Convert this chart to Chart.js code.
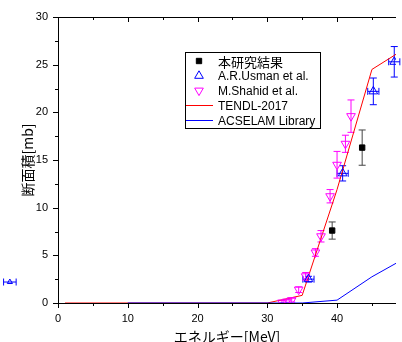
<!DOCTYPE html>
<html>
<head>
<meta charset="utf-8">
<script src="https://cdn.jsdelivr.net/npm/chart.js@4"></script>
<style>
  html, body { margin: 0; padding: 0; background: #fff; }
  canvas { display: block; }
</style>
</head>
<body>
<canvas id="xsChart" width="402" height="342"></canvas>
<script>
// tick labels
const xTicks = [0, 10, 20, 30, 40];
const yTicks = [0, 5, 10, 15, 20, 25, 30];

// 本研究結果
const thisE = [39.3, 43.6];
const thisXS = [7.6, 16.3];
const thisErr = [0.9, 1.85];

// A.R.Usman et al.
const usmanE = [35.9, 40.8, 45.2, 48.2];
const usmanXS = [2.5, 13.6, 22.2, 25.3];
const usmanErrY = [0.3, 0.8, 1.4, 1.6];
const usmanErrX = [0.8, 0.8, 0.8, 0.8];

// stray Usman marker left of the axis
const usmanOffE = [-6.9];
const usmanOffXS = [2.2];
const usmanOffErrX = [0.9];

// M.Shahid et al.
const shahidE = [32.1, 32.8, 33.5, 34.5, 35.5, 36.9, 37.7, 39.0, 40.0, 41.2, 42.0];
const shahidXS = [0.05, 0.15, 0.3, 1.4, 2.8, 5.3, 7.0, 11.2, 14.5, 16.7, 19.6];
const shahidErr = [0.2, 0.2, 0.2, 0.3, 0.4, 0.4, 0.6, 0.7, 1.4, 0.9, 1.7];

// TENDL-2017
const tendlE = [1, 30, 35, 40, 45, 50];
const tendlXS = [0, 0, 0.8, 11.9, 24.5, 26.8];

// ACSELAM Library
const acselamE = [10, 35, 40, 45, 50];
const acselamXS = [0, 0, 0.3, 2.75, 4.8];

const pts = (xs, ys) => xs.map((x, i) => ({ x: x, y: ys[i] }));

const tickFont = { family: "'Liberation Sans', Arial, sans-serif", size: 11 };
const cjkFont = "'Noto Sans CJK JP', sans-serif";

function marker(ctx, ds, x, y, r) {
  ctx.save();
  ctx.fillStyle = ds.backgroundColor;
  ctx.strokeStyle = ds.borderColor;
  ctx.lineWidth = 1;
  Chart.helpers.drawPoint(ctx, {
    pointStyle: ds.pointStyle, radius: r, rotation: ds.rotation || 0, borderWidth: 1
  }, x, y);
  ctx.restore();
}

const decor = {
  id: "decor",
  beforeDatasetsDraw(chart) {
    const ctx = chart.ctx;
    const xs = chart.scales.x, ys = chart.scales.y;
    ctx.save();
    chart.data.datasets.forEach(ds => {
      if (!ds.errY && !ds.errX) return;
      ctx.strokeStyle = ds.errColor || ds.borderColor;
      ctx.lineWidth = 1;
      ds.data.forEach((p, i) => {
        const px = xs.getPixelForValue(p.x);
        const py = ys.getPixelForValue(p.y);
        ctx.beginPath();
        if (ds.errY) {
          const t = ys.getPixelForValue(p.y + ds.errY[i]);
          const b = ys.getPixelForValue(Math.max(0, p.y - ds.errY[i]));
          ctx.moveTo(px, t); ctx.lineTo(px, b);
          ctx.moveTo(px - 3.5, t); ctx.lineTo(px + 3.5, t);
          ctx.moveTo(px - 3.5, b); ctx.lineTo(px + 3.5, b);
        }
        if (ds.errX) {
          const l = xs.getPixelForValue(p.x - ds.errX[i]);
          const r = xs.getPixelForValue(p.x + ds.errX[i]);
          ctx.moveTo(l, py); ctx.lineTo(r, py);
          ctx.moveTo(l, py - 3.5); ctx.lineTo(l, py + 3.5);
          ctx.moveTo(r, py - 3.5); ctx.lineTo(r, py + 3.5);
        }
        ctx.stroke();
      });
      // markers the library skips because they sit outside the plot area
      if (ds.outside) {
        ds.data.forEach(p => marker(ctx, ds, xs.getPixelForValue(p.x), ys.getPixelForValue(p.y), ds.markerSize));
      }
    });
    ctx.restore();
  },
  afterDraw(chart) {
    const ctx = chart.ctx;
    const a = chart.chartArea;
    const xs = chart.scales.x, ys = chart.scales.y;
    ctx.save();
    ctx.strokeStyle = "#000";
    ctx.lineWidth = 1;
    ctx.beginPath();
    // frame: left, bottom, top
    ctx.moveTo(a.left + 0.5, a.top); ctx.lineTo(a.left + 0.5, a.bottom + 0.5);
    ctx.moveTo(a.left, a.bottom + 0.5); ctx.lineTo(a.right, a.bottom + 0.5);
    ctx.moveTo(a.left, a.top + 0.5); ctx.lineTo(a.right, a.top + 0.5);
    // y ticks, outward
    for (let v = 0; v <= 30; v += 2.5) {
      const y = Math.round(ys.getPixelForValue(v)) + 0.5;
      const len = v % 5 === 0 ? 5 : 3;
      ctx.moveTo(a.left - len, y); ctx.lineTo(a.left, y);
    }
    // x ticks: bottom outward, top inward
    for (let v = 0; v <= xs.max; v += 5) {
      const x = Math.round(xs.getPixelForValue(v)) + 0.5;
      const len = v % 10 === 0 ? 5 : 3;
      ctx.moveTo(x, a.bottom); ctx.lineTo(x, a.bottom + len);
      ctx.moveTo(x, a.top); ctx.lineTo(x, a.top + len);
    }
    ctx.stroke();

    // legend box
    const bx = 185.5, by = 52.5, bw = 135, bh = 76;
    ctx.fillStyle = "#fff";
    ctx.fillRect(bx, by, bw, bh);
    ctx.strokeRect(bx, by, bw, bh);
    const items = [
      { ds: 0, label: "本研究結果", font: "13px " + cjkFont },
      { ds: 1, label: "A.R.Usman et al." },
      { ds: 2, label: "M.Shahid et al." },
      { ds: 5, label: "TENDL-2017" },
      { ds: 4, label: "ACSELAM Library" }
    ];
    items.forEach((it, k) => {
      const ds = chart.data.datasets[it.ds];
      const y = 61 + k * 14.8;
      if (ds.showLine) {
        ctx.strokeStyle = ds.borderColor;
        ctx.beginPath();
        ctx.moveTo(186, Math.round(y) + 0.5); ctx.lineTo(213, Math.round(y) + 0.5);
        ctx.stroke();
      } else {
        marker(ctx, ds, 199, y, ds.pointRadius);
      }
      ctx.fillStyle = "#000";
      ctx.font = it.font || "12px 'Liberation Sans', Arial, sans-serif";
      ctx.textAlign = "left";
      ctx.textBaseline = "middle";
      ctx.fillText(it.label, 218, y + 1);
    });
    ctx.restore();
  }
};

new Chart(document.getElementById("xsChart"), {
  type: "scatter",
  data: {
    datasets: [
      {
        label: "本研究結果", data: pts(thisE, thisXS), errY: thisErr, errColor: "#444",
        pointStyle: "rect", pointRadius: 3.8, backgroundColor: "#000", borderColor: "#000", borderWidth: 1
      },
      {
        label: "A.R.Usman et al.", data: pts(usmanE, usmanXS), errY: usmanErrY, errX: usmanErrX,
        pointStyle: "triangle", pointRadius: 5, backgroundColor: "rgba(255,255,255,0)", borderColor: "#0000ff", borderWidth: 1
      },
      {
        label: "M.Shahid et al.", data: pts(shahidE, shahidXS), errY: shahidErr,
        pointStyle: "triangle", rotation: 180, pointRadius: 5, backgroundColor: "rgba(255,255,255,0)", borderColor: "#ff00ff", borderWidth: 1
      },
      {
        label: "usman-off", data: pts(usmanOffE, usmanOffXS), errX: usmanOffErrX, outside: true, markerSize: 3,
        pointStyle: "triangle", pointRadius: 0, backgroundColor: "rgba(255,255,255,0)", borderColor: "#0000ff", borderWidth: 1
      },
      {
        label: "ACSELAM Library", data: pts(acselamE, acselamXS), showLine: true,
        pointRadius: 0, borderColor: "#0000ff", borderWidth: 1, tension: 0
      },
      {
        label: "TENDL-2017", data: pts(tendlE, tendlXS), showLine: true,
        pointRadius: 0, borderColor: "#ff0000", borderWidth: 1, tension: 0
      }
    ]
  },
  options: {
    responsive: false,
    animation: false,
    events: [],
    layout: { padding: { top: 17, right: 0, bottom: 0, left: 0 } },
    plugins: { legend: { display: false }, tooltip: { enabled: false } },
    scales: {
      x: {
        type: "linear", min: 0, max: 48.45,
        afterFit: s => { s.height = 39; },
        afterBuildTicks: s => { s.ticks = xTicks.map(v => ({ value: v })); },
        grid: { display: false, drawTicks: false },
        border: { display: false },
        ticks: { font: tickFont, color: "#000", padding: 9, maxRotation: 0 },
        title: {
          display: true, text: "エネルギー[MeV]", color: "#000",
          font: { family: cjkFont, size: 14, lineHeight: 0.8 },
          padding: { top: 0, bottom: 0 }
        }
      },
      y: {
        type: "linear", min: 0, max: 30,
        afterFit: s => { s.width = 58; },
        afterBuildTicks: s => { s.ticks = yTicks.map(v => ({ value: v })); },
        grid: { display: false, drawTicks: false },
        border: { display: false },
        ticks: { font: tickFont, color: "#000", padding: 10 },
        title: {
          display: true, text: "断面積[mb]", color: "#000",
          font: { family: cjkFont, size: 14 },
          padding: { top: 19, bottom: 0 }
        }
      }
    }
  },
  plugins: [decor]
});
</script>
</body>
</html>
